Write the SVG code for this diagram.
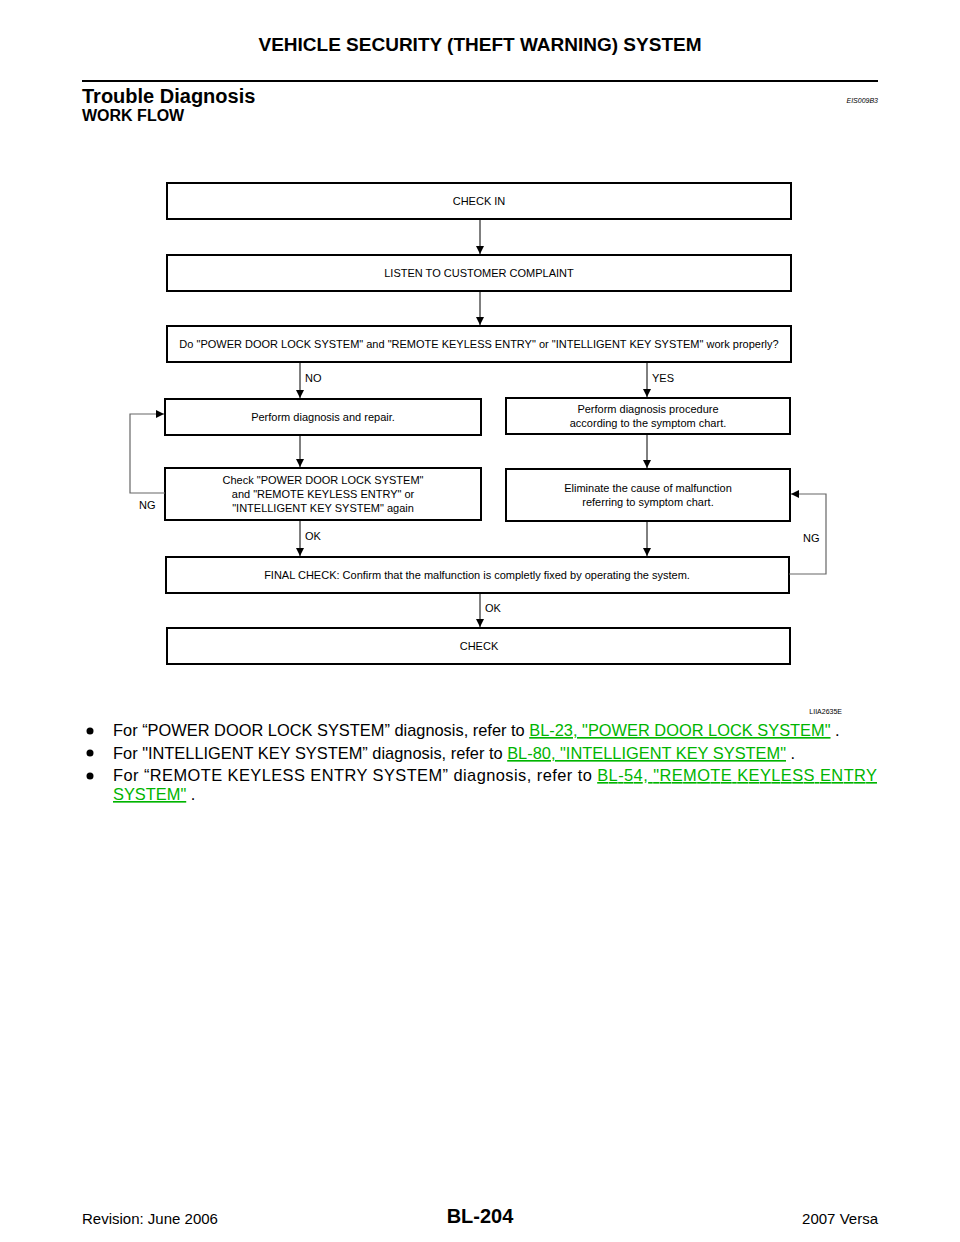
<svg xmlns="http://www.w3.org/2000/svg" width="960" height="1242" viewBox="0 0 960 1242">
<defs>
<style>
.b{fill:#fff;stroke:#000;stroke-width:2}
.t{font-family:"Liberation Sans",Arial,sans-serif;font-size:11px;fill:#000;text-anchor:middle}
.l{font-family:"Liberation Sans",Arial,sans-serif;font-size:11px;fill:#000}
.c{stroke:#000;stroke-width:1;fill:none}
.g{stroke:#666;stroke-width:1.2;fill:none}
.p{font-family:"Liberation Sans",Arial,sans-serif;font-size:16.4px;fill:#000}
.k{fill:#00b400;text-decoration:underline}
</style>
<marker id="a" viewBox="0 0 10 10" refX="10" refY="5" markerWidth="8" markerHeight="8" orient="auto" markerUnits="userSpaceOnUse"><path d="M0,0L10,5L0,10z" fill="#000"/></marker>
</defs>
<rect width="960" height="1242" fill="#fff"/>
<text x="480" y="51" text-anchor="middle" font-family="Liberation Sans,Arial,sans-serif" font-weight="bold" font-size="19">VEHICLE SECURITY (THEFT WARNING) SYSTEM</text>
<line x1="82" y1="81" x2="878" y2="81" stroke="#000" stroke-width="2"/>
<text x="82" y="103" font-family="Liberation Sans,Arial,sans-serif" font-weight="bold" font-size="20">Trouble Diagnosis</text>
<text x="878" y="103" text-anchor="end" font-family="Liberation Sans,Arial,sans-serif" font-style="italic" font-size="7">EIS009B3</text>
<text x="82" y="121" font-family="Liberation Sans,Arial,sans-serif" font-weight="bold" font-size="16">WORK FLOW</text>

<g id="n1"><rect class="b" x="167" y="183" width="624" height="36"/><text class="t" x="479" y="205">CHECK IN</text></g>
<g id="n2"><rect class="b" x="167" y="255" width="624" height="36"/><text class="t" x="479" y="277">LISTEN TO CUSTOMER COMPLAINT</text></g>
<g id="n3"><rect class="b" x="167" y="326" width="624" height="36"/><text class="t" x="479" y="348">Do "POWER DOOR LOCK SYSTEM" and "REMOTE KEYLESS ENTRY" or "INTELLIGENT KEY SYSTEM" work properly?</text></g>
<g id="n4"><rect class="b" x="165" y="399" width="316" height="36"/><text class="t" x="323" y="421">Perform diagnosis and repair.</text></g>
<g id="n5"><rect class="b" x="506" y="398" width="284" height="36"/><text class="t" x="648" y="413">Perform diagnosis procedure</text><text class="t" x="648" y="427">according to the symptom chart.</text></g>
<g id="n6"><rect class="b" x="165" y="468" width="316" height="52"/><text class="t" x="323" y="484">Check "POWER DOOR LOCK SYSTEM"</text><text class="t" x="323" y="498">and "REMOTE KEYLESS ENTRY" or</text><text class="t" x="323" y="512">"INTELLIGENT KEY SYSTEM" again</text></g>
<g id="n7"><rect class="b" x="506" y="469" width="284" height="52"/><text class="t" x="648" y="492">Eliminate the cause of malfunction</text><text class="t" x="648" y="506">referring to symptom chart.</text></g>
<g id="n8"><rect class="b" x="166" y="557" width="623" height="36"/><text class="t" x="477" y="579">FINAL CHECK: Confirm that the malfunction is completly fixed by operating the system.</text></g>
<g id="n9"><rect class="b" x="167" y="628" width="623" height="36"/><text class="t" x="479" y="650">CHECK</text></g>

<g id="connectors">
<line class="c" x1="480" y1="219" x2="480" y2="254" marker-end="url(#a)"/>
<line class="c" x1="480" y1="291" x2="480" y2="325" marker-end="url(#a)"/>
<line class="c" x1="300" y1="362" x2="300" y2="398" marker-end="url(#a)"/>
<line class="c" x1="647" y1="362" x2="647" y2="397" marker-end="url(#a)"/>
<line class="c" x1="300" y1="435" x2="300" y2="467" marker-end="url(#a)"/>
<line class="c" x1="647" y1="434" x2="647" y2="468" marker-end="url(#a)"/>
<line class="c" x1="300" y1="520" x2="300" y2="556" marker-end="url(#a)"/>
<line class="c" x1="647" y1="521" x2="647" y2="556" marker-end="url(#a)"/>
<line class="c" x1="480" y1="593" x2="480" y2="627" marker-end="url(#a)"/>
<path class="g" d="M165,493H130V414H164" marker-end="url(#a)"/>
<path class="g" d="M789,574H826V494H791" marker-end="url(#a)"/>
<text class="l" x="305" y="382">NO</text>
<text class="l" x="652" y="382">YES</text>
<text class="l" x="139" y="509">NG</text>
<text class="l" x="305" y="540">OK</text>
<text class="l" x="803" y="542">NG</text>
<text class="l" x="485" y="612">OK</text>
</g>
<text x="842" y="714" text-anchor="end" font-family="Liberation Sans,Arial,sans-serif" font-size="7">LIIA2635E</text>

<circle cx="90" cy="731" r="3.5"/>
<text class="p" x="113" y="736">For “POWER DOOR LOCK SYSTEM” diagnosis, refer to <tspan class="k">BL-23, "POWER DOOR LOCK SYSTEM"</tspan> .</text>
<circle cx="90" cy="753" r="3.5"/>
<text class="p" x="113" y="759">For "INTELLIGENT KEY SYSTEM” diagnosis, refer to <tspan class="k">BL-80, "INTELLIGENT KEY SYSTEM"</tspan> .</text>
<circle cx="90" cy="776" r="3.5"/>
<text class="p" x="113" y="781" textLength="764" lengthAdjust="spacing">For “REMOTE KEYLESS ENTRY SYSTEM” diagnosis, refer to <tspan class="k">BL-54, "REMOTE KEYLESS ENTRY</tspan></text>
<text class="p" x="113" y="800"><tspan class="k">SYSTEM"</tspan> .</text>

<text x="82" y="1224" font-family="Liberation Sans,Arial,sans-serif" font-size="15">Revision: June 2006</text>
<text x="480" y="1223" text-anchor="middle" font-family="Liberation Sans,Arial,sans-serif" font-weight="bold" font-size="20">BL-204</text>
<text x="878" y="1224" text-anchor="end" font-family="Liberation Sans,Arial,sans-serif" font-size="15">2007 Versa</text>
</svg>
